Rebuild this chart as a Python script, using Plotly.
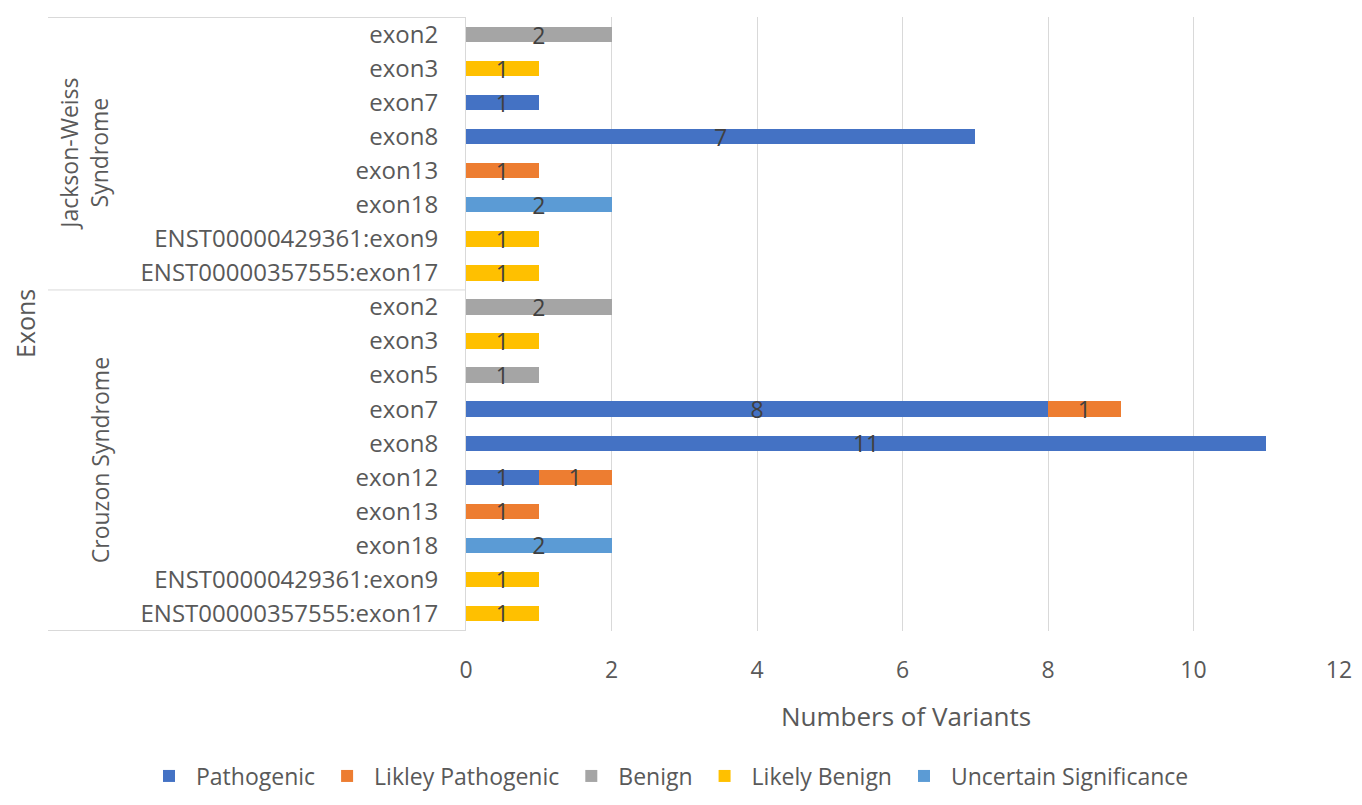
import plotly.graph_objects as go

# ---- data ----
groups = ["Jackson-Weiss Syndrome"] * 8 + ["Crouzon Syndrome"] * 10
exons = ["exon2", "exon3", "exon7", "exon8", "exon13", "exon18",
         "ENST00000429361:exon9", "ENST00000357555:exon17",
         "exon2", "exon3", "exon5", "exon7", "exon8", "exon12", "exon13", "exon18",
         "ENST00000429361:exon9", "ENST00000357555:exon17"]
series_names = ["Pathogenic", "Likley Pathogenic", "Benign", "Likely Benign", "Uncertain Significance"]
pathogenic =        [None, None, 1, 7, None, None, None, None,
                     None, None, None, 8, 11, 1, None, None, None, None]
likely_pathogenic = [None, None, None, None, 1, None, None, None,
                     None, None, None, 1, None, 1, 1, None, None, None]
benign =            [2, None, None, None, None, None, None, None,
                     2, None, 1, None, None, None, None, None, None, None]
likely_benign =     [None, 1, None, None, None, None, 1, 1,
                     None, 1, None, None, None, None, None, None, 1, 1]
uncertain =         [None, None, None, None, None, 2, None, None,
                     None, None, None, None, None, None, None, 2, None, None]
x_ticks = [0, 2, 4, 6, 8, 10, 12]

colors = ["#4472C4", "#ED7D31", "#A5A5A5", "#FFC000", "#5B9BD5"]
FONT = "Open Sans"
GREY = "#595959"

keys = [f"{g}|{e}" for g, e in zip(groups, exons)]
series_vals = [pathogenic, likely_pathogenic, benign, likely_benign, uncertain]

fig = go.Figure()
for name, vals, col in zip(series_names, series_vals, colors):
    fig.add_trace(go.Bar(
        y=keys, x=vals, name=name, orientation="h",
        marker=dict(color=col, line=dict(width=0)),
        text=[("" if v is None else str(v)) for v in vals],
        textposition="inside", insidetextanchor="middle", textangle=0,
        constraintext="none",
        textfont=dict(family=FONT, size=23, color="#404040"),
        hoverinfo="skip",
    ))

# page body has an 8px margin on every side; keep the figure inside the window
OFF = 8
W, H = 1362 - 2 * OFF, 805 - 2 * OFF
L, T = 466 - OFF, 17 - OFF
PW, PH = 1339 - 466, 614


def px(xpage):
    return (xpage - OFF - L) / PW


def py(ypage):
    return (T + PH - (ypage - OFF)) / PH


fig.update_layout(
    width=W, height=H,
    barmode="stack", bargap=0.55,
    plot_bgcolor="white", paper_bgcolor="white",
    margin=dict(l=L, r=W - L - PW, t=T, b=H - T - PH, autoexpand=False),
    font=dict(family=FONT, color=GREY),
    showlegend=True,
    legend=dict(orientation="h", x=px(142), xanchor="left", y=py(776), yanchor="middle",
                itemwidth=44,
                font=dict(family=FONT, size=23, color=GREY), traceorder="normal"),
)
fig.update_xaxes(range=[0, 12], tickvals=x_ticks, showgrid=True, gridcolor="#D9D9D9",
                 gridwidth=1, zeroline=False, showline=False, automargin=False,
                 ticklabeloverflow="allow",
                 ticks="outside", ticklen=18, tickcolor="rgba(0,0,0,0)",
                 tickfont=dict(family=FONT, size=23, color=GREY))
fig.update_yaxes(categoryorder="array", categoryarray=keys, autorange="reversed",
                 tickvals=keys, ticktext=exons, showgrid=False, zeroline=False,
                 showline=True, linecolor="#D9D9D9", linewidth=1, automargin=False,
                 ticks="outside", ticklen=22, tickcolor="rgba(0,0,0,0)",
                 tickfont=dict(family=FONT, size=24, color=GREY))

for yv in [-0.5, 7.5, 17.5]:
    fig.add_shape(type="line", xref="paper", yref="y", x0=px(48), x1=0, y0=yv, y1=yv,
                  line=dict(color="#D9D9D9", width=1))

fig.add_annotation(text="Jackson-Weiss<br>Syndrome", xref="paper", yref="y",
                   x=px(84), y=3.5, textangle=-90, showarrow=False,
                   xanchor="center", yanchor="middle",
                   font=dict(family=FONT, size=23, color=GREY))
fig.add_annotation(text="Crouzon Syndrome", xref="paper", yref="y",
                   x=px(100), y=12.5, textangle=-90, showarrow=False,
                   xanchor="center", yanchor="middle",
                   font=dict(family=FONT, size=23, color=GREY))
fig.add_annotation(text="Exons", xref="paper", yref="paper",
                   x=px(25), y=0.5, textangle=-90, showarrow=False,
                   xanchor="center", yanchor="middle",
                   font=dict(family=FONT, size=25, color=GREY))
fig.add_annotation(text="Numbers of Variants", xref="paper", yref="paper",
                   x=px(906), y=py(716), xanchor="center", yanchor="middle",
                   showarrow=False,
                   font=dict(family=FONT, size=26, color=GREY))

fig.write_html("out.html")
